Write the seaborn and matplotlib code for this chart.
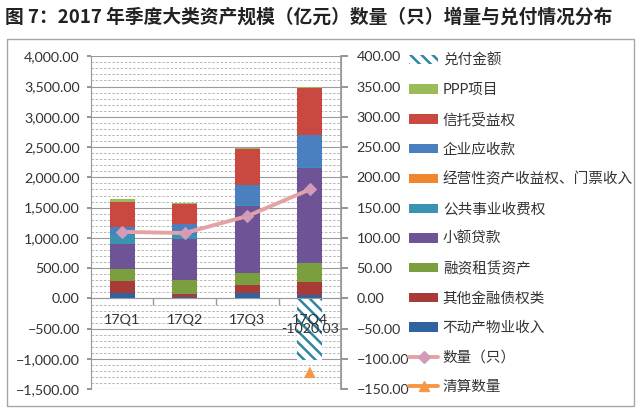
import numpy as np
import matplotlib
matplotlib.use('Agg')
import matplotlib.pyplot as plt
import matplotlib.ticker as mticker
from matplotlib.patches import Patch, Rectangle
from matplotlib.lines import Line2D
import seaborn as sns

# DATA (亿元 / 只)
quarters = ['17Q1', '17Q2', '17Q3', '17Q4']
real_estate = [95, 30, 95, 55]          # 不动产物业收入
other_debt = [190, 50, 120, 222]        # 其他金融债权类
leasing = [195, 225, 205, 305]          # 融资租赁资产
micro_loan = [415, 680, 1100, 1567]     # 小额贷款
utility = [150, 66, 25, 15]             # 公共事业收费权
operating = [0, 0, 0, 0]                # 经营性资产收益权、门票收入
receivable = [140, 176, 335, 539]       # 企业应收款
trust = [415, 338, 590, 767]            # 信托受益权
ppp = [40, 5, 15, 30]                   # PPP项目
payout = [0, 0, 0, -1020.03]            # 兑付金额
count = [110, 108, 136, 180]            # 数量（只）
liquidation = [np.nan, np.nan, np.nan, -122]  # 清算数量

# STACK ORDER BOTTOM -> TOP
layers = [
    ('不动产物业收入', real_estate, '#2F63A0'),
    ('其他金融债权类', other_debt, '#A83A38'),
    ('融资租赁资产', leasing, '#7B9E3E'),
    ('小额贷款', micro_loan, '#6E5497'),
    ('公共事业收费权', utility, '#3A93B2'),
    ('经营性资产收益权、门票收入', operating, '#F0872E'),
    ('企业应收款', receivable, '#4A7FC0'),
    ('信托受益权', trust, '#C9483F'),
    ('PPP项目', ppp, '#9BBB59'),
]
payout_color = '#2E86A0'
line_color = '#E3A3A6'
marker_color = '#D49BB8'
liq_color = '#F79646'

sns.set_theme(style='white')
plt.rcParams['font.family'] = ['Lato', 'Noto Sans CJK SC', 'DejaVu Sans']
plt.rcParams['hatch.linewidth'] = 1.8
txt = '#333333'

fig = plt.figure(figsize=(6.4, 4.15), dpi=100)
ax = fig.add_axes([0.142, 0.062, 0.391, 0.8024])

# STACKED BARS: draw cumulative totals from the top layer down
cum = np.cumsum([vals for _, vals, _ in layers], axis=0)
for i in range(len(layers) - 1, -1, -1):
    sns.barplot(x=quarters, y=cum[i], color=layers[i][2], saturation=1,
                width=0.4, errorbar=None, linewidth=0, ax=ax)

sns.barplot(x=quarters, y=payout, color='white', saturation=1, width=0.4,
            errorbar=None, edgecolor=payout_color, linewidth=0,
            hatch='\\\\\\', ax=ax)
pay_bars = ax.containers[-1]
ax.bar_label(pay_bars, labels=[f'{v:.2f}' if v else '' for v in payout],
             label_type='center', fontsize=10.3, color=txt)

ax.set_xlim(-0.5, 3.5)
ax.set_ylim(-1500, 4000)
ax.yaxis.set_major_locator(mticker.MultipleLocator(500))
ax.yaxis.set_minor_locator(mticker.MultipleLocator(100))
ax.yaxis.set_major_formatter(mticker.StrMethodFormatter('{x:,.2f}'))
ax.grid(which='major', axis='y', color='#9A9A9A', lw=0.8)
ax.grid(which='minor', axis='y', color='#ABABAB', lw=0.6, ls=(0, (3, 2)))
ax.set_axisbelow(True)
ax.tick_params(axis='y', which='major', length=3, pad=5, color='#888888',
               labelsize=10.3, labelcolor=txt, left=True)
ax.tick_params(axis='y', which='minor', length=0)
ax.tick_params(axis='x', which='both', bottom=False, labelbottom=False)
ax.set_xlabel('')
ax.set_ylabel('')
for s in ['top', 'bottom']:
    ax.spines[s].set_visible(False)
for s in ['left', 'right']:
    ax.spines[s].set_color('#999999')
    ax.spines[s].set_linewidth(0.8)

# RIGHT AXIS: counts
ax2 = ax.twinx()
pos = np.arange(len(quarters))
sns.lineplot(x=pos, y=count, ax=ax2, color=line_color, lw=2.8, marker='D',
             markersize=6, markerfacecolor=marker_color,
             markeredgecolor=marker_color, legend=False)
sns.scatterplot(x=pos, y=liquidation, ax=ax2, marker='^', color=liq_color,
                s=70, edgecolor='none', legend=False)
ax2.set_ylim(-150, 400)
ax2.yaxis.set_major_locator(mticker.MultipleLocator(50))
ax2.yaxis.set_major_formatter(mticker.StrMethodFormatter('{x:.2f}'))
ax2.tick_params(axis='y', length=5, pad=6, color='#888888', labelsize=10.3,
                labelcolor=txt, right=True)
ax2.set_ylabel('')
ax2.set_xlabel('')

# category labels on the zero line (drawn above the bars)
ax2.xaxis.set_visible(True)
ax2.spines['bottom'].set_position(('data', 0))
ax2.spines['bottom'].set_color('#999999')
ax2.spines['bottom'].set_linewidth(0.8)
ax2.spines['top'].set_visible(False)
ax2.spines['left'].set_visible(False)
ax2.spines['right'].set_color('#999999')
ax2.xaxis.set_minor_locator(mticker.FixedLocator(pos[:-1] + 0.5))
ax2.tick_params(axis='x', which='major', length=0, pad=11, labelsize=10.3,
                labelcolor=txt, bottom=True)
ax2.tick_params(axis='x', which='minor', length=5, color='#999999',
                direction='out', bottom=True)

# LEGEND
handles = [Patch(facecolor='white', edgecolor=payout_color, lw=0,
                 hatch='\\\\\\', label='兑付金额')]
for name, _, col in layers[::-1]:
    handles.append(Patch(facecolor=col, lw=0, label=name))
handles.append(Line2D([], [], color=line_color, lw=2.8, marker='D',
                      markersize=6, markerfacecolor=marker_color,
                      markeredgecolor=marker_color, label='数量（只）'))
handles.append(Line2D([], [], color=liq_color, lw=2.8, marker='^',
                      markersize=7, label='清算数量'))
ax2.legend(handles=handles, loc='upper left',
           bbox_to_anchor=(0.628, 0.889), bbox_transform=fig.transFigure,
           frameon=False, fontsize=10.5, labelspacing=1.07, borderpad=0,
           handlelength=2.0, handleheight=0.6, handletextpad=0.3,
           labelcolor=txt)

fig.patches.append(Rectangle((0.011, 0.022), 0.98, 0.884,
                             transform=fig.transFigure, fill=False,
                             ec='#A6A6A6', lw=1))
fig.text(0.008, 0.958,
         '图 7：2017 年季度大类资产规模（亿元）数量（只）增量与兑付情况分布',
         family=['Noto Sans CJK SC'], weight='bold', fontsize=13.5,
         color='#222222', va='center', ha='left')

fig.savefig('out.png', dpi=100)
